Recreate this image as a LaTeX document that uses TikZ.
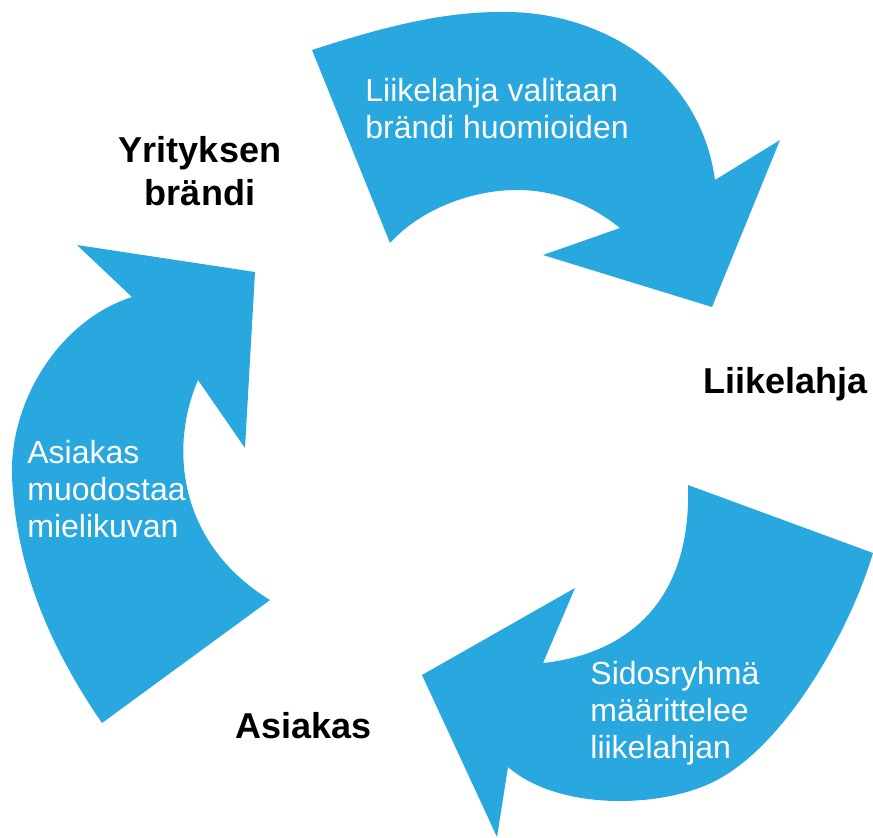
\documentclass[tikz,border=0pt]{standalone}
\usepackage{fontspec}
\setmainfont{Liberation Sans}
\definecolor{cyclecyan}{RGB}{41,168,224}
\tikzset{
  cyclearrow/.style={fill=cyclecyan},
  stagetext/.style={text=white, inner sep=0pt, align=left,
    font=\fontsize{16}{18.5}\selectfont},
  stagename/.style={text=black, inner sep=0pt, align=center,
    font=\bfseries\fontsize{18}{21.5}\selectfont}
}
\begin{document}
\begin{tikzpicture}[x=0.5pt,y=-0.5pt]
        \useasboundingbox (0,0) rectangle (873,837);

        % top arrow
        \coordinate (T1) at (390,243);
        \coordinate (T2) at (312,50);
        \coordinate (T3) at (715,180);
        \coordinate (T4) at (780,140);
        \coordinate (T5) at (712,307);
        \coordinate (T6) at (543,255);
        \coordinate (T7) at (620,228);

        \fill[cyclearrow] (T1) -- (T2)
                        .. controls (380,28) and (440,12) .. (500,12)
                        .. controls (600,10) and (700,70) .. (T3)
                        -- (T4) -- (T5) -- (T6) -- (T7)
                        .. controls (585,200) and (550,190) .. (517,190)
                        .. controls (470,190) and (420,210) .. (T1)
                        -- cycle;

        % right arrow
        \coordinate (R1) at (688,485);
        \coordinate (R2) at (873,553);
        \coordinate (R3) at (508,767);
        \coordinate (R4) at (497,837);
        \coordinate (R5) at (422,675);
        \coordinate (R6) at (575,588);
        \coordinate (R7) at (543,663);

        \fill[cyclearrow] (R1) -- (R2)
                        .. controls (850,630) and (787,743) .. (717,780)
                        .. controls (665,808) and (560,812) .. (R3)
                        -- (R4) -- (R5) -- (R6) -- (R7)
                        .. controls (618,655) and (692,610) .. (R1)
                        -- cycle;

        % left arrow
        \coordinate (L1) at (270,600);
        \coordinate (L2) at (102,723);
        \coordinate (L3) at (132,297);
        \coordinate (L4) at (77,245);
        \coordinate (L5) at (255,272);
        \coordinate (L6) at (245,448);
        \coordinate (L7) at (198,380);

        \fill[cyclearrow] (L1) -- (L2)
                        .. controls (45,640) and (15,560) .. (12,475)
                        .. controls (10,400) and (60,320) .. (L3)
                        -- (L4) -- (L5) -- (L6) -- (L7)
                        .. controls (168,450) and (180,545) .. (L1)
                        -- cycle;

        %%%
        \node[stagename, anchor=base] (brand) at (200,205) {Yrityksen\\brändi};
        \node[stagename, anchor=base west] (gift) at (703,393) {Liikelahja};
        \node[stagename, anchor=base west] (customer) at (235,738) {Asiakas};

        \node[stagetext, anchor=base west] (choose) at (365,138)
            {Liikelahja valitaan\\brändi huomioiden};
        \node[stagetext, anchor=base west] (define) at (590,758)
            {Sidosryhmä\\määrittelee\\liikelahjan};
        \node[stagetext, anchor=base west] (image) at (27,537)
            {Asiakas\\muodostaa\\mielikuvan};
\end{tikzpicture}
\end{document}
